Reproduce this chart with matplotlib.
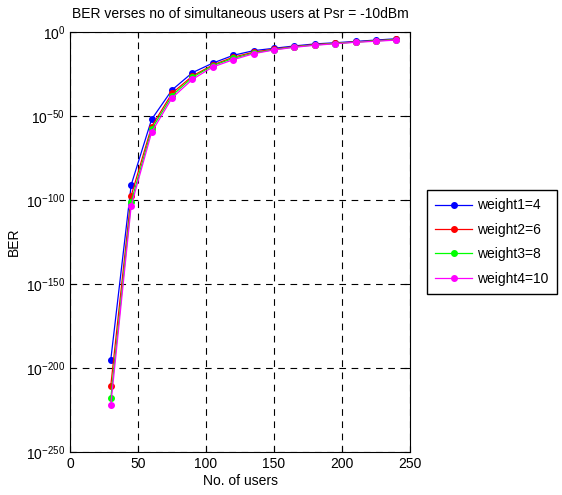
import numpy as np
import matplotlib
matplotlib.use('Agg')
import matplotlib.pyplot as plt
from matplotlib.ticker import FixedLocator, FixedFormatter, NullLocator

plt.rcParams['font.family'] = ['Liberation Sans', 'DejaVu Sans']
plt.rcParams['mathtext.fontset'] = 'custom'
plt.rcParams['mathtext.rm'] = 'Liberation Sans'

# number of users
usuarios = [30, 45, 60, 75, 90, 105, 120, 135, 150, 165, 180, 195, 210, 225, 240]

# exponentes de BER (log10)
exp_w4 = [-195, -91, -52, -34.5, -24.2, -18.5, -13.9, -11.1, -9.7, -8.3, -7.1, -6.4, -5.6, -4.8, -4.0]
exp_w6 = [-210.5, -97.4, -56.3, -36.5, -26.2, -19.6, -15.0, -12.0, -10.2, -8.7, -7.5, -6.7, -5.9, -5.2, -4.4]
exp_w8 = [-218, -101, -57.9, -37.9, -27.0, -20.0, -15.7, -12.5, -10.5, -8.9, -7.7, -6.9, -6.0, -5.3, -4.6]
exp_w10 = [-222, -103.4, -59.7, -39.3, -28.2, -20.8, -16.5, -12.9, -10.7, -9.1, -7.9, -7.0, -6.1, -5.5, -4.8]

etiquetas = ['weight1=4', 'weight2=6', 'weight3=8', 'weight4=10']
colores = ['#0000ff', '#ff0000', '#00ff00', '#ff00ff']

fig = plt.figure(figsize=(5.62, 4.95), dpi=100)
ax = fig.add_axes([70 / 562, 1 - 452 / 495, 340 / 562, 420 / 495])

for exps, lab, col in zip([exp_w4, exp_w6, exp_w8, exp_w10], etiquetas, colores):
    ber = 10.0 ** np.array(exps)
    ax.semilogy(usuarios, ber, '-o', color=col, label=lab, linewidth=0.9, markersize=4)

ax.set_xlim(0, 250)
ax.set_ylim(1e-250, 1e0)
ax.set_xticks([0, 50, 100, 150, 200, 250])

exps_ticks = np.arange(-250, 1, 50)
ax.yaxis.set_major_locator(FixedLocator(10.0 ** exps_ticks.astype(float)))
ax.yaxis.set_major_formatter(FixedFormatter([r'$\mathregular{10^{%d}}$' % e for e in exps_ticks]))
ax.yaxis.set_minor_locator(NullLocator())

ax.tick_params(direction='in', top=True, right=True, labelsize=10, length=4)
ax.grid(True, color='black', linestyle=(0, (6, 5)), linewidth=0.8)

ax.set_xlabel('No. of users', fontsize=10, labelpad=2)
ax.set_ylabel('BER', fontsize=10)
ax.set_title('BER verses no of simultaneous users at Psr = -10dBm', fontsize=10, pad=10)

ax.legend(loc='center left', bbox_to_anchor=(1.03, 0.5), fontsize=10, frameon=True,
          fancybox=False, edgecolor='black', framealpha=1, handlelength=2.6,
          borderpad=0.6, labelspacing=0.75, handletextpad=0.4)

fig.savefig('out.png', dpi=100)
